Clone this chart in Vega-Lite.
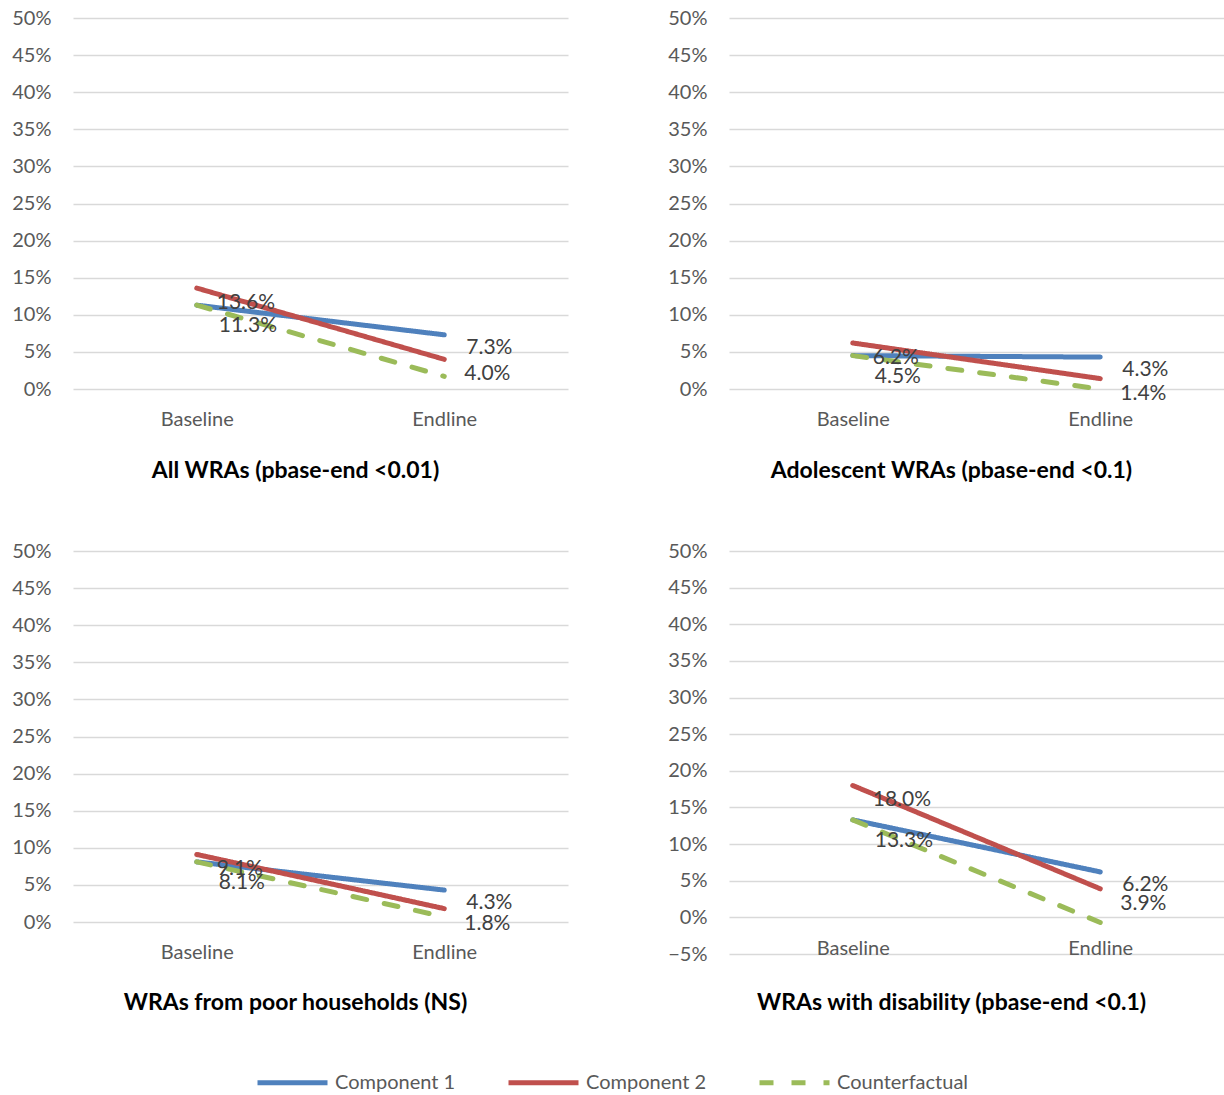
{
  "$schema": "https://vega.github.io/schema/vega-lite/v6.json",
  "padding": {"left": 11, "top": 8, "right": 0, "bottom": 0},
  "background": "white",
  "datasets": {
    "d": [
      {"panel": "all", "period": "Baseline", "series": "Component 1", "value": 0.113},
      {"panel": "all", "period": "Endline", "series": "Component 1", "value": 0.073},
      {"panel": "all", "period": "Baseline", "series": "Component 2", "value": 0.136},
      {"panel": "all", "period": "Endline", "series": "Component 2", "value": 0.040},
      {"panel": "all", "period": "Baseline", "series": "Counterfactual", "value": 0.113},
      {"panel": "all", "period": "Endline", "series": "Counterfactual", "value": 0.017},
      {"panel": "adol", "period": "Baseline", "series": "Component 1", "value": 0.045},
      {"panel": "adol", "period": "Endline", "series": "Component 1", "value": 0.043},
      {"panel": "adol", "period": "Baseline", "series": "Component 2", "value": 0.062},
      {"panel": "adol", "period": "Endline", "series": "Component 2", "value": 0.014},
      {"panel": "adol", "period": "Baseline", "series": "Counterfactual", "value": 0.045},
      {"panel": "adol", "period": "Endline", "series": "Counterfactual", "value": 0.000},
      {"panel": "poor", "period": "Baseline", "series": "Component 1", "value": 0.081},
      {"panel": "poor", "period": "Endline", "series": "Component 1", "value": 0.043},
      {"panel": "poor", "period": "Baseline", "series": "Component 2", "value": 0.091},
      {"panel": "poor", "period": "Endline", "series": "Component 2", "value": 0.018},
      {"panel": "poor", "period": "Baseline", "series": "Counterfactual", "value": 0.081},
      {"panel": "poor", "period": "Endline", "series": "Counterfactual", "value": 0.007},
      {"panel": "dis", "period": "Baseline", "series": "Component 1", "value": 0.133},
      {"panel": "dis", "period": "Endline", "series": "Component 1", "value": 0.062},
      {"panel": "dis", "period": "Baseline", "series": "Component 2", "value": 0.180},
      {"panel": "dis", "period": "Endline", "series": "Component 2", "value": 0.039},
      {"panel": "dis", "period": "Baseline", "series": "Counterfactual", "value": 0.133},
      {"panel": "dis", "period": "Endline", "series": "Counterfactual", "value": -0.007}
    ]
  },
  "columns": 2,
  "spacing": {"column": 99, "row": 58},
  "concat": [
    {
      "width": 495, "height": 371,
      "data": {"name": "d"},
      "transform": [{"filter": "datum.panel == 'all'"}],
      "title": {"text": "All WRAs (pbase-end <0.01)", "orient": "bottom", "offset": 31, "dx": -25},
      "encoding": {
        "x": {"field": "period", "type": "nominal", "scale": {"type": "point", "padding": 0.5}, "axis": {"title": null, "labelAngle": 0, "labelPadding": 20, "domain": false, "ticks": false, "grid": false}},
        "y": {"field": "value", "type": "quantitative", "scale": {"domain": [0, 0.5], "nice": false, "zero": false}, "axis": {"title": null, "format": ".0%", "values": [0, 0.05, 0.1, 0.15, 0.2, 0.25, 0.3, 0.35, 0.4, 0.45, 0.5]}}
      },
      "layer": [
        {"mark": {"type": "line", "strokeWidth": 5, "strokeCap": "round"},
         "encoding": {
           "color": {"field": "series", "type": "nominal", "title": null, "scale": {"domain": ["Component 1", "Component 2", "Counterfactual"], "range": ["#4F81BD", "#C0504D", "#9BBB59"]}},
           "strokeDash": {"field": "series", "type": "nominal", "title": null, "scale": {"domain": ["Component 1", "Component 2", "Counterfactual"], "range": [[1, 0], [1, 0], [14, 18]]}}}},
        {"transform": [{"filter": "datum.series == 'Component 2'"}], "mark": {"type": "text", "align": "left", "baseline": "middle", "dx": 20, "dy": 15}, "encoding": {"text": {"field": "value", "type": "quantitative", "format": ".1%"}}},
        {"transform": [{"filter": "datum.series == 'Component 1' && datum.period == 'Baseline'"}], "mark": {"type": "text", "align": "left", "baseline": "middle", "dx": 22, "dy": 21}, "encoding": {"text": {"field": "value", "type": "quantitative", "format": ".1%"}}},
        {"transform": [{"filter": "datum.series == 'Component 1' && datum.period == 'Endline'"}], "mark": {"type": "text", "align": "left", "baseline": "middle", "dx": 22, "dy": 13}, "encoding": {"text": {"field": "value", "type": "quantitative", "format": ".1%"}}}
      ]
    },
    {
      "width": 495, "height": 371,
      "data": {"name": "d"},
      "transform": [{"filter": "datum.panel == 'adol'"}],
      "title": {"text": "Adolescent WRAs (pbase-end <0.1)", "orient": "bottom", "offset": 31, "dx": -25},
      "encoding": {
        "x": {"field": "period", "type": "nominal", "scale": {"type": "point", "padding": 0.5}, "axis": {"title": null, "labelAngle": 0, "labelPadding": 20, "domain": false, "ticks": false, "grid": false}},
        "y": {"field": "value", "type": "quantitative", "scale": {"domain": [0, 0.5], "nice": false, "zero": false}, "axis": {"title": null, "format": ".0%", "values": [0, 0.05, 0.1, 0.15, 0.2, 0.25, 0.3, 0.35, 0.4, 0.45, 0.5]}}
      },
      "layer": [
        {"mark": {"type": "line", "strokeWidth": 5, "strokeCap": "round"},
         "encoding": {
           "color": {"field": "series", "type": "nominal", "title": null, "scale": {"domain": ["Component 1", "Component 2", "Counterfactual"], "range": ["#4F81BD", "#C0504D", "#9BBB59"]}},
           "strokeDash": {"field": "series", "type": "nominal", "title": null, "scale": {"domain": ["Component 1", "Component 2", "Counterfactual"], "range": [[1, 0], [1, 0], [14, 18]]}}}},
        {"transform": [{"filter": "datum.series == 'Component 2'"}], "mark": {"type": "text", "align": "left", "baseline": "middle", "dx": 20, "dy": 15}, "encoding": {"text": {"field": "value", "type": "quantitative", "format": ".1%"}}},
        {"transform": [{"filter": "datum.series == 'Component 1' && datum.period == 'Baseline'"}], "mark": {"type": "text", "align": "left", "baseline": "middle", "dx": 22, "dy": 21}, "encoding": {"text": {"field": "value", "type": "quantitative", "format": ".1%"}}},
        {"transform": [{"filter": "datum.series == 'Component 1' && datum.period == 'Endline'"}], "mark": {"type": "text", "align": "left", "baseline": "middle", "dx": 22, "dy": 13}, "encoding": {"text": {"field": "value", "type": "quantitative", "format": ".1%"}}}
      ]
    },
    {
      "width": 495, "height": 371,
      "data": {"name": "d"},
      "transform": [{"filter": "datum.panel == 'poor'"}],
      "title": {"text": "WRAs from poor households (NS)", "orient": "bottom", "offset": 30, "dx": -25},
      "encoding": {
        "x": {"field": "period", "type": "nominal", "scale": {"type": "point", "padding": 0.5}, "axis": {"title": null, "labelAngle": 0, "labelPadding": 20, "domain": false, "ticks": false, "grid": false}},
        "y": {"field": "value", "type": "quantitative", "scale": {"domain": [0, 0.5], "nice": false, "zero": false}, "axis": {"title": null, "format": ".0%", "values": [0, 0.05, 0.1, 0.15, 0.2, 0.25, 0.3, 0.35, 0.4, 0.45, 0.5]}}
      },
      "layer": [
        {"mark": {"type": "line", "strokeWidth": 5, "strokeCap": "round"},
         "encoding": {
           "color": {"field": "series", "type": "nominal", "title": null, "scale": {"domain": ["Component 1", "Component 2", "Counterfactual"], "range": ["#4F81BD", "#C0504D", "#9BBB59"]}},
           "strokeDash": {"field": "series", "type": "nominal", "title": null, "scale": {"domain": ["Component 1", "Component 2", "Counterfactual"], "range": [[1, 0], [1, 0], [14, 18]]}}}},
        {"transform": [{"filter": "datum.series == 'Component 2'"}], "mark": {"type": "text", "align": "left", "baseline": "middle", "dx": 20, "dy": 15}, "encoding": {"text": {"field": "value", "type": "quantitative", "format": ".1%"}}},
        {"transform": [{"filter": "datum.series == 'Component 1' && datum.period == 'Baseline'"}], "mark": {"type": "text", "align": "left", "baseline": "middle", "dx": 22, "dy": 21}, "encoding": {"text": {"field": "value", "type": "quantitative", "format": ".1%"}}},
        {"transform": [{"filter": "datum.series == 'Component 1' && datum.period == 'Endline'"}], "mark": {"type": "text", "align": "left", "baseline": "middle", "dx": 22, "dy": 13}, "encoding": {"text": {"field": "value", "type": "quantitative", "format": ".1%"}}}
      ]
    },
    {
      "width": 495, "height": 403,
      "data": {"name": "d"},
      "transform": [{"filter": "datum.panel == 'dis'"}],
      "title": {"text": "WRAs with disability (pbase-end <0.1)", "orient": "bottom", "offset": 28, "dx": -25},
      "encoding": {
        "x": {"field": "period", "type": "nominal", "scale": {"type": "point", "padding": 0.5}, "axis": {"title": null, "labelAngle": 0, "labelPadding": 20, "offset": -36, "domain": false, "ticks": false, "grid": false}},
        "y": {"field": "value", "type": "quantitative", "scale": {"domain": [-0.05, 0.5], "nice": false, "zero": false}, "axis": {"title": null, "format": ".0%", "values": [-0.05, 0, 0.05, 0.1, 0.15, 0.2, 0.25, 0.3, 0.35, 0.4, 0.45, 0.5]}}
      },
      "layer": [
        {"mark": {"type": "line", "strokeWidth": 5, "strokeCap": "round"},
         "encoding": {
           "color": {"field": "series", "type": "nominal", "title": null, "scale": {"domain": ["Component 1", "Component 2", "Counterfactual"], "range": ["#4F81BD", "#C0504D", "#9BBB59"]}},
           "strokeDash": {"field": "series", "type": "nominal", "title": null, "scale": {"domain": ["Component 1", "Component 2", "Counterfactual"], "range": [[1, 0], [1, 0], [14, 18]]}}}},
        {"transform": [{"filter": "datum.series == 'Component 2'"}], "mark": {"type": "text", "align": "left", "baseline": "middle", "dx": 20, "dy": 15}, "encoding": {"text": {"field": "value", "type": "quantitative", "format": ".1%"}}},
        {"transform": [{"filter": "datum.series == 'Component 1' && datum.period == 'Baseline'"}], "mark": {"type": "text", "align": "left", "baseline": "middle", "dx": 22, "dy": 21}, "encoding": {"text": {"field": "value", "type": "quantitative", "format": ".1%"}}},
        {"transform": [{"filter": "datum.series == 'Component 1' && datum.period == 'Endline'"}], "mark": {"type": "text", "align": "left", "baseline": "middle", "dx": 22, "dy": 13}, "encoding": {"text": {"field": "value", "type": "quantitative", "format": ".1%"}}}
      ]
    }
  ],
  "resolve": {"scale": {"y": "independent", "x": "independent"}},
  "config": {
    "font": "Lato",
    "view": {"stroke": null},
    "axis": {"labelFont": "Lato", "labelFontSize": 20, "labelColor": "#595959", "gridColor": "#d9d9d9", "gridWidth": 1.3, "domain": false, "ticks": false},
    "axisY": {"labelPadding": 22},
    "text": {"font": "Lato", "fontSize": 21, "color": "#404040"},
    "title": {"font": "Lato", "fontSize": 23, "fontWeight": "bold", "color": "#000000", "anchor": "middle", "baseline": "top"},
    "legend": {
      "orient": "none", "legendX": 182, "legendY": 1027, "direction": "horizontal", "title": null,
      "symbolType": "stroke", "symbolSize": 4900, "symbolStrokeWidth": 5, "labelFont": "Lato", "labelFontSize": 20,
      "labelColor": "#595959", "columnPadding": 42, "labelOffset": 5, "padding": 0
    }
  }
}
